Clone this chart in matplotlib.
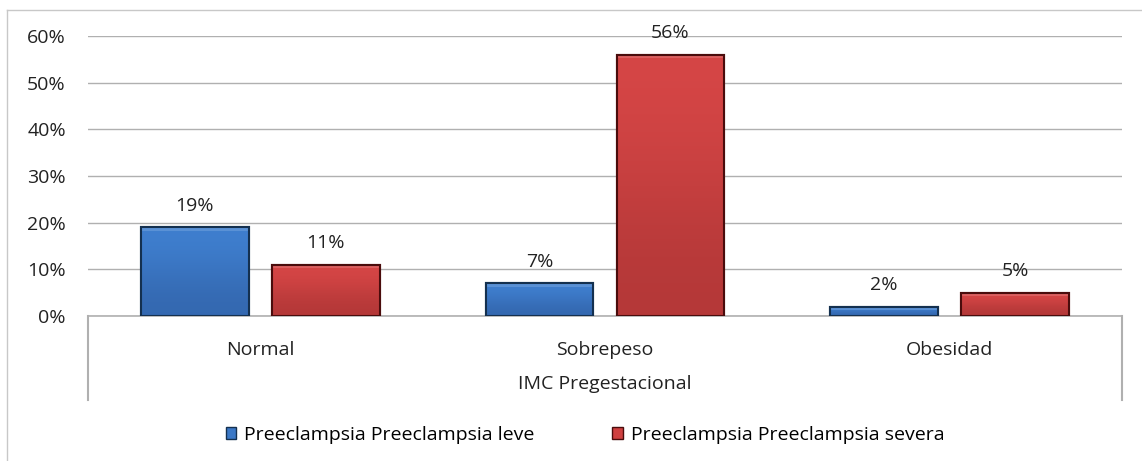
import matplotlib.pyplot as plt
from matplotlib.lines import Line2D
from matplotlib.patches import Patch
from matplotlib.colors import LinearSegmentedColormap
import numpy as np

plt.rcParams['font.family'] = ['Open Sans', 'DejaVu Sans']

# datos
categorias = ['Normal', 'Sobrepeso', 'Obesidad']
leve = [19, 7, 2]
severa = [11, 56, 5]
series = ['Preeclampsia Preeclampsia leve', 'Preeclampsia Preeclampsia severa']
titulo_eje = 'IMC Pregestacional'

azul, azul_borde = '#3b78c6', '#14304f'
rojo, rojo_borde = '#cf4040', '#4a0c0c'
fs = 14

fig = plt.figure(figsize=(11.42, 4.61), dpi=100)
ax = fig.add_axes([88/1142, 1-316/461, (1122-88)/1142, (316-36)/461])

x = np.arange(len(categorias))
w = 0.313
off = 0.19
b1 = ax.bar(x - off, leve, w, color=azul, edgecolor=azul_borde, linewidth=1.5, zorder=3)
b2 = ax.bar(x + off, severa, w, color=rojo, edgecolor=rojo_borde, linewidth=1.5, zorder=3)

# degradado suave tipo bisel de Excel
cm_azul = LinearSegmentedColormap.from_list('a', ['#3468b0', '#3f7fcf'])
cm_rojo = LinearSegmentedColormap.from_list('r', ['#b43838', '#d64646'])
for bars, cm in ((b1, cm_azul), (b2, cm_rojo)):
    for b in bars:
        x0, y0 = b.get_x(), b.get_y()
        bw, bh = b.get_width(), b.get_height()
        im = ax.imshow(np.linspace(0, 1, 2).reshape(-1, 1), cmap=cm, aspect='auto',
                       extent=(x0, x0 + bw, y0, y0 + bh), origin='lower', zorder=3.1,
                       interpolation='bicubic')
        im.set_clip_path(b)
        if bh > 1.5:
            ax.add_patch(plt.Rectangle((x0, y0 + bh - 0.8), bw, 0.8, color=cm(1.0), alpha=0.7,
                                       zorder=3.15, linewidth=0))
            ax.add_patch(plt.Rectangle((x0, y0 + bh - 0.8), bw, 0.8, color='white', alpha=0.15,
                                       zorder=3.16, linewidth=0))
        ax.add_patch(plt.Rectangle((x0, y0), bw, bh, fill=False, edgecolor=b.get_edgecolor(),
                                   linewidth=1.5, zorder=3.2))

for bars, vals in ((b1, leve), (b2, severa)):
    for b, v in zip(bars, vals):
        ax.annotate(f'{v}%', (b.get_x() + b.get_width()/2, v), xytext=(0, 9),
                    textcoords='offset points', ha='center', va='bottom', fontsize=fs, color='#222222')

ax.set_xlim(-0.5, 2.5)
ax.set_ylim(0, 60)
ax.set_yticks(range(0, 61, 10))
ax.set_yticklabels([f'{t}%' for t in range(0, 61, 10)], fontsize=fs, color='#222222')
ax.yaxis.grid(True, color='#b0b0b0', linewidth=1)
ax.set_axisbelow(True)
for s in ['top', 'right', 'left']:
    ax.spines[s].set_visible(False)
ax.spines['bottom'].set_color('#b0b0b0')
ax.spines['bottom'].set_linewidth(1.2)
ax.tick_params(axis='y', length=0, pad=16)
ax.tick_params(axis='x', length=0, pad=18)
ax.set_xticks(x)
ax.set_xticklabels(categorias, fontsize=fs, color='#222222')

# separadores del eje de categorias
for xs in (88, 1122):
    fig.add_artist(Line2D([xs/1142]*2, [1-316/461, 1-400/461], color='#b0b0b0', lw=1.5))
fig.text(605/1142, 1-384/461, titulo_eje, ha='center', va='center', fontsize=fs, color='#222222')

# borde exterior
fig.add_artist(Line2D([7/1142, 7/1142], [1-10/461, 0], color='#c8c8c8', lw=1))
fig.add_artist(Line2D([7/1142, 1], [1-10/461, 1-10/461], color='#c8c8c8', lw=1))

handles = [Patch(facecolor=azul, edgecolor=azul_borde), Patch(facecolor=rojo, edgecolor=rojo_borde)]
fig.legend(handles, series, loc='center', bbox_to_anchor=(585/1142, 1-435/461), ncol=2,
           frameon=False, fontsize=fs, handlelength=0.55, handleheight=0.55, handletextpad=0.4,
           columnspacing=4.0)

fig.savefig('out.png', dpi=100)
